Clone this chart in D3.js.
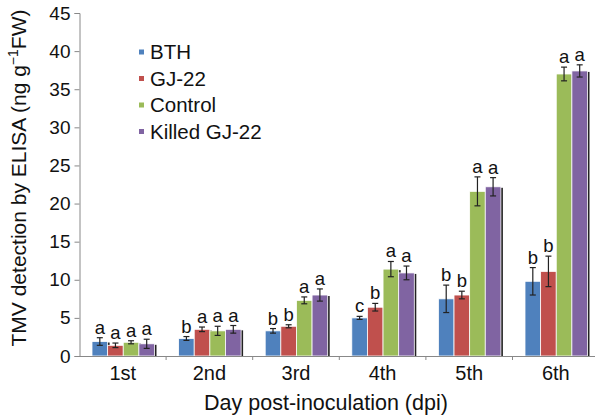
<!DOCTYPE html>
<html>
<head>
<meta charset="utf-8">
<script src="https://cdn.jsdelivr.net/npm/d3@7"></script>
<style>
  body { margin: 0; background: #fff; }
  svg { font-family: "Liberation Sans", Arial, sans-serif; }
</style>
</head>
<body>
<div id="chart"></div>
<script>
const days = ["1st", "2nd", "3rd", "4th", "5th", "6th"];
const series = ["BTH", "GJ-22", "Control", "Killed GJ-22"];
const colors = ["#4F81BD", "#C0504D", "#9BBB59", "#8064A2"];

// means per series, one value per day
const bth      = [1.9, 2.3, 3.3, 5.0, 7.5, 9.8];
const gj22     = [1.4, 3.5, 3.9, 6.4, 8.0, 11.1];
const control  = [1.8, 3.3, 7.3, 11.4, 21.6, 37.0];
const killed   = [1.6, 3.5, 8.0, 10.9, 22.2, 37.4];

// error (+/-) per series
const bthErr     = [0.5, 0.25, 0.3, 0.2, 1.8, 1.8];
const gj22Err    = [0.3, 0.3, 0.2, 0.5, 0.5, 2.0];
const controlErr = [0.2, 0.6, 0.45, 1.0, 1.9, 0.9];
const killedErr  = [0.6, 0.5, 0.8, 0.9, 1.2, 0.8];

// significance letters
const bthSig     = ["a", "b", "b", "c", "b", "b"];
const gj22Sig    = ["a", "a", "b", "b", "b", "b"];
const controlSig = ["a", "a", "a", "a", "a", "a"];
const killedSig  = ["a", "a", "a", "a", "a", "a"];

const yTicks = [0, 5, 10, 15, 20, 25, 30, 35, 40, 45];

const values = [bth, gj22, control, killed];
const errs = [bthErr, gj22Err, controlErr, killedErr];
const sigs = [bthSig, gj22Sig, controlSig, killedSig];

const rows = [];
days.forEach((d, di) => {
    series.forEach((s, si) => {
        rows.push({ day: d, series: s, si: si,
            value: values[si][di], err: errs[si][di], sig: sigs[si][di] });
    });
});

const width = 595, height = 420;
const plotLeft = 79.5, plotBottom = 356, plotTop = 13;
const bandW = 86.6;

const svg = d3.select("#chart").append("svg")
    .attr("width", width)
    .attr("height", height);

const x0 = d3.scaleBand()
    .domain(days)
    .range([plotLeft, plotLeft + bandW * days.length]);

const x1 = d3.scaleBand()
    .domain(series)
    .range([12.5, 75]);

const y = d3.scaleLinear()
    .domain([0, 45])
    .range([plotBottom, plotTop]);

// shadows
svg.append("g")
    .selectAll("rect")
    .data(rows)
    .join("rect")
    .attr("x", d => x0(d.day) + x1(d.series) + 2)
    .attr("y", d => y(d.value) + 1)
    .attr("width", x1.bandwidth())
    .attr("height", d => plotBottom - y(d.value) - 1)
    .attr("fill", "#222");

// bars
svg.append("g")
    .selectAll("rect")
    .data(rows)
    .join("rect")
    .attr("x", d => x0(d.day) + x1(d.series))
    .attr("y", d => y(d.value))
    .attr("width", x1.bandwidth())
    .attr("height", d => plotBottom - y(d.value))
    .attr("fill", d => colors[d.si])
    .attr("stroke", "#fff")
    .attr("stroke-width", 0.8);

// error bars
const eb = svg.append("g")
    .attr("stroke", "#222")
    .attr("stroke-width", 1.2);

rows.forEach(d => {
    const cx = x0(d.day) + x1(d.series) + x1.bandwidth() / 2;
    const y1 = y(d.value + d.err), y2 = y(d.value - d.err);
    eb.append("line").attr("x1", cx).attr("x2", cx).attr("y1", y1).attr("y2", y2);
    eb.append("line").attr("x1", cx - 3).attr("x2", cx + 3).attr("y1", y1).attr("y2", y1);
    eb.append("line").attr("x1", cx - 3).attr("x2", cx + 3).attr("y1", y2).attr("y2", y2);
});

// letters
svg.append("g")
    .selectAll("text")
    .data(rows)
    .join("text")
    .attr("x", d => x0(d.day) + x1(d.series) + x1.bandwidth() / 2)
    .attr("y", d => y(d.value + d.err) - 4)
    .attr("text-anchor", "middle")
    .style("font-size", "18.5px")
    .style("fill", "#111")
    .text(d => d.sig);

// y axis
const yAxis = svg.append("g")
    .attr("transform", `translate(${plotLeft},0)`)
    .call(d3.axisLeft(y).tickValues(yTicks).tickSize(5).tickPadding(4));
yAxis.select(".domain").attr("stroke", "#888");
yAxis.selectAll(".tick line").attr("stroke", "#888");
yAxis.selectAll(".tick text")
    .style("font-size", "19px")
    .style("fill", "#111");
yAxis.attr("font-family", null);

// x axis
const xAxis = svg.append("g")
    .attr("transform", `translate(0,${plotBottom})`)
    .call(d3.axisBottom(x0).tickSize(0).tickPadding(10));
xAxis.select(".domain").attr("stroke", "#888");
xAxis.selectAll(".tick text")
    .style("font-size", "20px")
    .style("fill", "#111");
xAxis.attr("font-family", null);

svg.append("g")
    .selectAll("line")
    .data(days.slice(1))
    .join("line")
    .attr("x1", d => x0(d))
    .attr("x2", d => x0(d))
    .attr("y1", plotBottom)
    .attr("y2", plotBottom + 4)
    .attr("stroke", "#888");

// axis titles
svg.append("text")
    .attr("x", 326)
    .attr("y", 410)
    .attr("text-anchor", "middle")
    .style("font-size", "21.5px")
    .style("fill", "#111")
    .text("Day post-inoculation (dpi)");

const yt = svg.append("text")
    .attr("transform", "translate(26,178) rotate(-90)")
    .attr("text-anchor", "middle")
    .style("font-size", "21px")
    .style("fill", "#111");
yt.append("tspan").text("TMV detection by ELISA (ng g");
yt.append("tspan").attr("dy", -8).style("font-size", "14px").text("\u22121");
yt.append("tspan").attr("dy", 8).text("FW)");

// legend
const lg = svg.append("g")
    .attr("transform", "translate(139,52)");
series.forEach((s, i) => {
    lg.append("rect")
        .attr("x", 0)
        .attr("y", i * 26.5 - 2.5)
        .attr("width", 5)
        .attr("height", 5)
        .attr("fill", colors[i]);
    lg.append("text")
        .attr("x", 11)
        .attr("y", i * 26.5 + 7)
        .style("font-size", "20.5px")
        .style("fill", "#111")
        .text(s);
});
</script>
</body>
</html>
